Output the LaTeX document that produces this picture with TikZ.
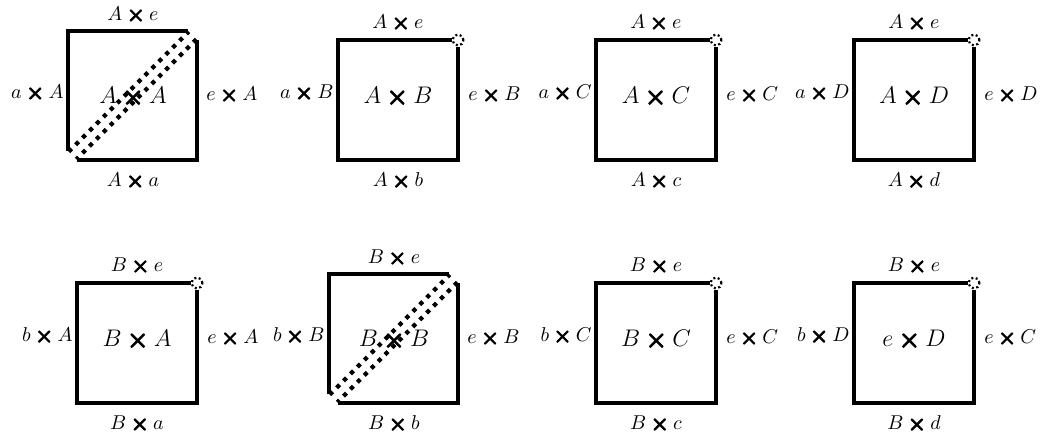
\documentclass[tikz,border=0pt]{standalone}
\usepackage{bm}
\usetikzlibrary{positioning}
\newcommand{\crs}{\mathbin{\special{pdf:literal direct 0.5 w 2 Tr}\bm{\times}\special{pdf:literal direct 0 Tr}}}
\tikzset{
  sq/edge/.style={line width=2pt, line join=miter},
  sq/cut/.style={line width=2.1pt, dash pattern=on 2.1pt off 2.8pt},
  sq/corner/.style={line width=1.1pt, dash pattern=on 1pt off 1.3pt},
  sq/label/.style={font=\fontsize{10}{12}\selectfont, inner sep=0pt},
  sq/name/.style={font=\fontsize{13}{15}\selectfont, inner sep=0pt}
}

\begin{document}
\begin{tikzpicture}[x=0.5pt,y=0.5pt]
  \useasboundingbox (0,0) rectangle (1045,434);
  % plain squares, open at the top right corner
  \foreach \nm/\R/\B/\tl/\ll/\rl/\bl/\cl in {
      ab/458/274/{A\crs e}/{a\crs B}/{e\crs B}/{A\crs b}/{A\crs B},
      ac/716/274/{A\crs e}/{a\crs C}/{e\crs C}/{A\crs c}/{A\crs C},
      ad/974/274/{A\crs e}/{a\crs D}/{e\crs D}/{A\crs d}/{A\crs D},
      ba/197/31/{B\crs e}/{b\crs A}/{e\crs A}/{B\crs a}/{B\crs A},
      bc/716/31/{B\crs e}/{b\crs C}/{e\crs C}/{B\crs c}/{B\crs C},
      bd/974/31/{B\crs e}/{b\crs D}/{e\crs C}/{B\crs d}/{e\crs D}}{
    \draw[sq/edge] (\R-6,\B+120) -- (\R-120,\B+120) -- (\R-120,\B) -- (\R,\B) -- (\R,\B+113);
    \draw[sq/corner] (\R,\B+120) circle [radius=5.5];
    \node[sq/name] (\nm) at (\R-60,\B+63) {$\cl$};
    \node[sq/label] (\nm-t) at (\R-60,\B+137) {$\tl$};
    \node[sq/label] (\nm-b) at (\R-60,\B-21) {$\bl$};
    \node[sq/label,anchor=east] (\nm-l) at (\R-124,\B+67) {$\ll$};
    \node[sq/label,anchor=west] (\nm-r) at (\R+10,\B+65) {$\rl$};
  }
  % diagonal squares, cut in two halves
  \foreach \nm/\R/\B/\tl/\ll/\rl/\bl/\cl in {
      aa/197/274/{A\crs e}/{a\crs A}/{e\crs A}/{A\crs a}/{A\crs A},
      bb/458/31/{B\crs e}/{b\crs B}/{e\crs B}/{B\crs b}/{B\crs B}}{
    \draw[sq/edge] (\R-120,\B) -- (\R,\B) -- (\R,\B+120);
    \draw[sq/cut] (\R-0.7,\B+120.7) -- (\R-120.7,\B+0.7);
    \draw[sq/edge] (\R-9,\B+129) -- (\R-129,\B+129) -- (\R-129,\B+9);
    \draw[sq/cut] (\R-128.3,\B+8.3) -- (\R-8.3,\B+128.3);
    \node[sq/name] (\nm) at (\R-64,\B+63) {$\cl$};
    \node[sq/label] (\nm-t) at (\R-64,\B+145) {$\tl$};
    \node[sq/label] (\nm-b) at (\R-64,\B-21) {$\bl$};
    \node[sq/label,anchor=east] (\nm-l) at (\R-133,\B+67) {$\ll$};
    \node[sq/label,anchor=west] (\nm-r) at (\R+9,\B+65) {$\rl$};
  }
\end{tikzpicture}
\end{document}
